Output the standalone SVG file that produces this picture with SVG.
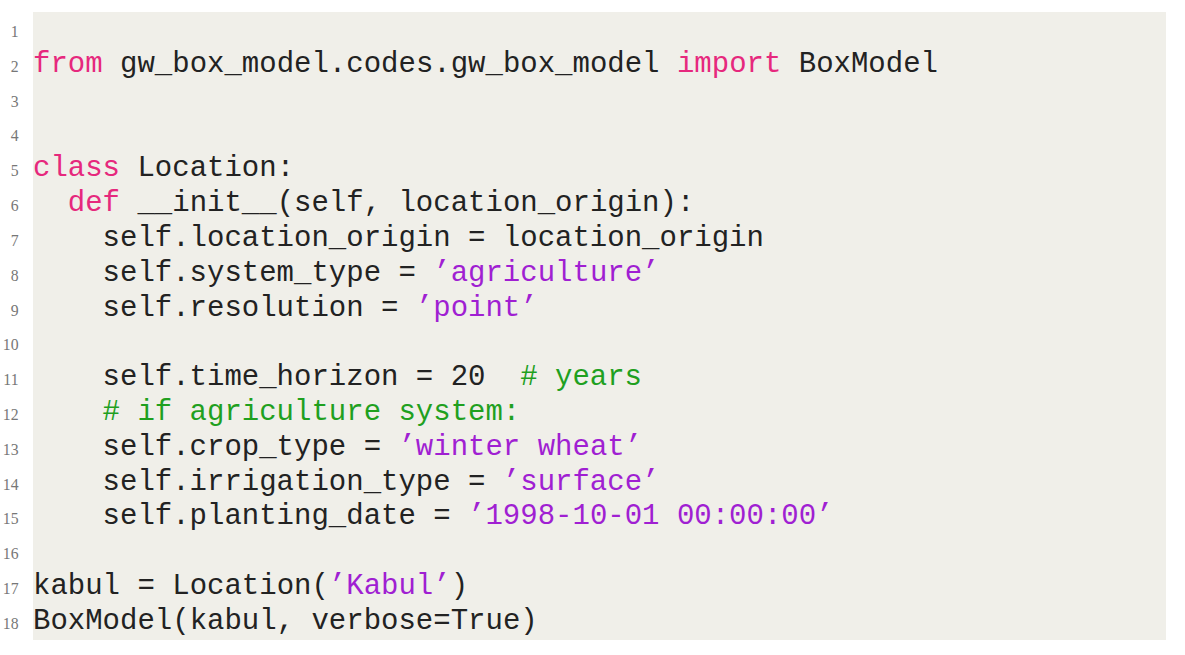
<svg xmlns="http://www.w3.org/2000/svg" width="1185" height="655" viewBox="0 0 1185 655">
<style>
.code{font-family:"Liberation Mono","Courier New",monospace;font-size:29px;fill:#222}
.ln{font-family:"Liberation Serif","Times New Roman",serif;font-size:17.5px;fill:#777;text-anchor:end}
.kw{fill:#e6287d}
.str{fill:#a01fd2}
.cm{fill:#1fa01f}
</style>
<rect x="0" y="0" width="1185" height="655" fill="#ffffff"/>
<rect id="listing-bg" x="33" y="12" width="1133" height="628" fill="#f0efe9"/>
<g id="line-numbers" class="ln" transform="translate(18.5 0) scale(0.9 1)">
<text x="0" y="37">1</text>
<text x="0" y="72">2</text>
<text x="0" y="107">3</text>
<text x="0" y="141">4</text>
<text x="0" y="176">5</text>
<text x="0" y="211">6</text>
<text x="0" y="246">7</text>
<text x="0" y="281">8</text>
<text x="0" y="316">9</text>
<text x="0" y="350">10</text>
<text x="0" y="385">11</text>
<text x="0" y="420">12</text>
<text x="0" y="455">13</text>
<text x="0" y="490">14</text>
<text x="0" y="524">15</text>
<text x="0" y="559">16</text>
<text x="0" y="594">17</text>
<text x="0" y="629">18</text>
</g>
<g id="code" class="code">
<text x="33" y="72"><tspan class="kw">from</tspan> gw_box_model.codes.gw_box_model <tspan class="kw">import</tspan> BoxModel</text>
<text x="33" y="176"><tspan class="kw">class</tspan> Location:</text>
<text x="67.8" y="211"><tspan class="kw">def</tspan> __init__(self, location_origin):</text>
<text x="102.6" y="246">self.location_origin = location_origin</text>
<text x="102.6" y="281">self.system_type = <tspan class="str">’agriculture’</tspan></text>
<text x="102.6" y="316">self.resolution = <tspan class="str">’point’</tspan></text>
<text x="102.6" y="385">self.time_horizon = 20<tspan class="cm" x="520.2"># years</tspan></text>
<text x="102.6" y="420" class="cm"># if agriculture system:</text>
<text x="102.6" y="455">self.crop_type = <tspan class="str">’winter wheat’</tspan></text>
<text x="102.6" y="490">self.irrigation_type = <tspan class="str">’surface’</tspan></text>
<text x="102.6" y="524">self.planting_date = <tspan class="str">’1998-10-01 00:00:00’</tspan></text>
<text x="33" y="594">kabul = Location(<tspan class="str">’Kabul’</tspan>)</text>
<text x="33" y="629">BoxModel(kabul, verbose=True)</text>
</g>
</svg>
